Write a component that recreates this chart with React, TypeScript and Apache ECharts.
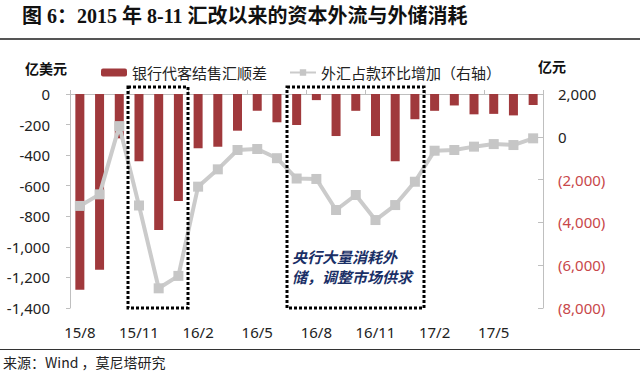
import React, { useEffect, useRef } from "react";
import * as echarts from "echarts";

const categories = ["15/8","15/9","15/10","15/11","15/12","16/1","16/2","16/3","16/4","16/5","16/6","16/7","16/8","16/9","16/10","16/11","16/12","17/1","17/2","17/3","17/4","17/5","17/6","17/7"];
const netFxSettlement = [-1280,-1150,-290,-440,-890,-700,-355,-345,-240,-110,-185,-203,-40,-275,-110,-275,-440,-165,-110,-75,-133,-130,-140,-72];
const fxReserveChange = [-3230,-2690,500,-3210,-7080,-6500,-2330,-1520,-617,-570,-1000,-1950,-1970,-3420,-2720,-3890,-3190,-2100,-650,-617,-460,-340,-385,-72];
const seriesNames = ["银行代客结售汇顺差", "外汇占款环比增加（右轴）"];
const titleText = "图 6：2015 年 8-11 汇改以来的资本外流与外储消耗";
const sourceText = "来源：Wind ，莫尼塔研究";
const noteLines = ["央行大量消耗外", "储，调整市场供求"];

const fmt = (v: number) => Math.abs(v).toLocaleString("en-US");
const SANS = "'Noto Sans', 'Noto Sans CJK SC', sans-serif";
const CJK = "'Noto Sans CJK SC', 'Noto Sans', sans-serif";

export default function App() {
  const ref = useRef<HTMLDivElement>(null);
  useEffect(() => {
    document.body.style.margin = "0";
    const chart = echarts.init(ref.current!, null, { renderer: "svg" });
    chart.setOption({
      animation: false,
      backgroundColor: "#ffffff",
      grid: { left: 70, right: 97, top: 94, bottom: 75 },
      legend: {
        left: 96,
        top: 60,
        itemWidth: 26,
        itemHeight: 8,
        itemGap: 22,
        textStyle: { fontSize: 15, color: "#222", fontFamily: CJK },
        data: seriesNames,
      },
      xAxis: [
        {
          type: "category",
          data: categories,
          position: "bottom",
          axisLine: { show: false, onZero: false },
          axisTick: { show: false },
          axisLabel: { interval: 2, margin: 16, fontSize: 15, color: "#222", fontFamily: SANS },
        },
        {
          type: "category",
          data: categories,
          position: "top",
          axisLine: { show: true, onZero: false, lineStyle: { color: "#bfbfbf", width: 1 } },
          axisTick: { show: true, interval: 2, length: 4, lineStyle: { color: "#bfbfbf" } },
          axisLabel: { show: false },
        },
      ],
      yAxis: [
        {
          type: "value",
          min: -1400,
          max: 0,
          interval: 200,
          position: "left",
          axisLine: { show: true, lineStyle: { color: "#bfbfbf" } },
          axisTick: { show: true, length: 4, lineStyle: { color: "#bfbfbf" } },
          splitLine: { show: false },
          axisLabel: {
            margin: 20,
            fontSize: 15,
            color: "#222",
            fontFamily: SANS,
            formatter: (v: number) => (v < 0 ? "-" : "") + fmt(v),
          },
        },
        {
          type: "value",
          min: -8000,
          max: 2000,
          interval: 2000,
          position: "right",
          axisLine: { show: true, lineStyle: { color: "#bfbfbf" } },
          axisTick: { show: true, inside: true, length: 5, lineStyle: { color: "#bfbfbf" } },
          splitLine: { show: false },
          axisLabel: {
            margin: 15,
            fontSize: 15,
            fontFamily: SANS,
            color: (v: any) => (Number(v) < 0 ? "#c8474a" : "#222"),
            formatter: (v: number) => (v < 0 ? "(" + fmt(v) + ")" : fmt(v)),
          },
        },
      ],
      series: [
        {
          name: seriesNames[0],
          type: "bar",
          xAxisIndex: 0,
          yAxisIndex: 0,
          data: netFxSettlement,
          barWidth: 9,
          itemStyle: { color: "#a0393c" },
        },
        {
          name: seriesNames[1],
          type: "line",
          xAxisIndex: 0,
          yAxisIndex: 1,
          data: fxReserveChange,
          symbol: "rect",
          symbolSize: 10,
          lineStyle: { color: "#cbcbcb", width: 4 },
          itemStyle: { color: "#c6c6c6" },
          z: 3,
        },
      ],
      graphic: [
        { type: "text", left: 22, top: 6, style: { text: titleText, font: "bold 20px 'Liberation Serif', 'Noto Sans CJK SC', serif", fill: "#111" } },
        { type: "rect", shape: { x: 0, y: 38, width: 640, height: 2 }, style: { fill: "#555" } },
        { type: "text", left: 25, top: 61, style: { text: "亿美元", font: "bold 14px 'Noto Sans CJK SC', sans-serif", fill: "#111" } },
        { type: "text", left: 538, top: 59, style: { text: "亿元", font: "bold 14px 'Noto Sans CJK SC', sans-serif", fill: "#111" } },
        { type: "rect", shape: { x: 128, y: 87, width: 60, height: 221 }, style: { fill: "none", stroke: "#000", lineWidth: 3, lineDash: [3, 2] }, z: 10 },
        { type: "rect", shape: { x: 287, y: 87, width: 137, height: 221 }, style: { fill: "none", stroke: "#000", lineWidth: 3, lineDash: [3, 2] }, z: 10 },
        { type: "text", left: 292, top: 249, style: { text: noteLines[0], font: "italic bold 15px 'Noto Sans CJK SC', sans-serif", fill: "#1a2f66" }, z: 10 },
        { type: "text", left: 292, top: 269, style: { text: noteLines[1], font: "italic bold 15px 'Noto Sans CJK SC', sans-serif", fill: "#1a2f66" }, z: 10 },
        { type: "rect", shape: { x: 0, y: 349, width: 640, height: 1 }, style: { fill: "#333" } },
        { type: "text", left: 3, top: 355, style: { text: sourceText, font: "14px 'Noto Sans CJK SC', sans-serif", fill: "#222" } },
      ],
    });
    return () => chart.dispose();
  }, []);
  return <div ref={ref} style={{ width: 640, height: 383 }} />;
}
